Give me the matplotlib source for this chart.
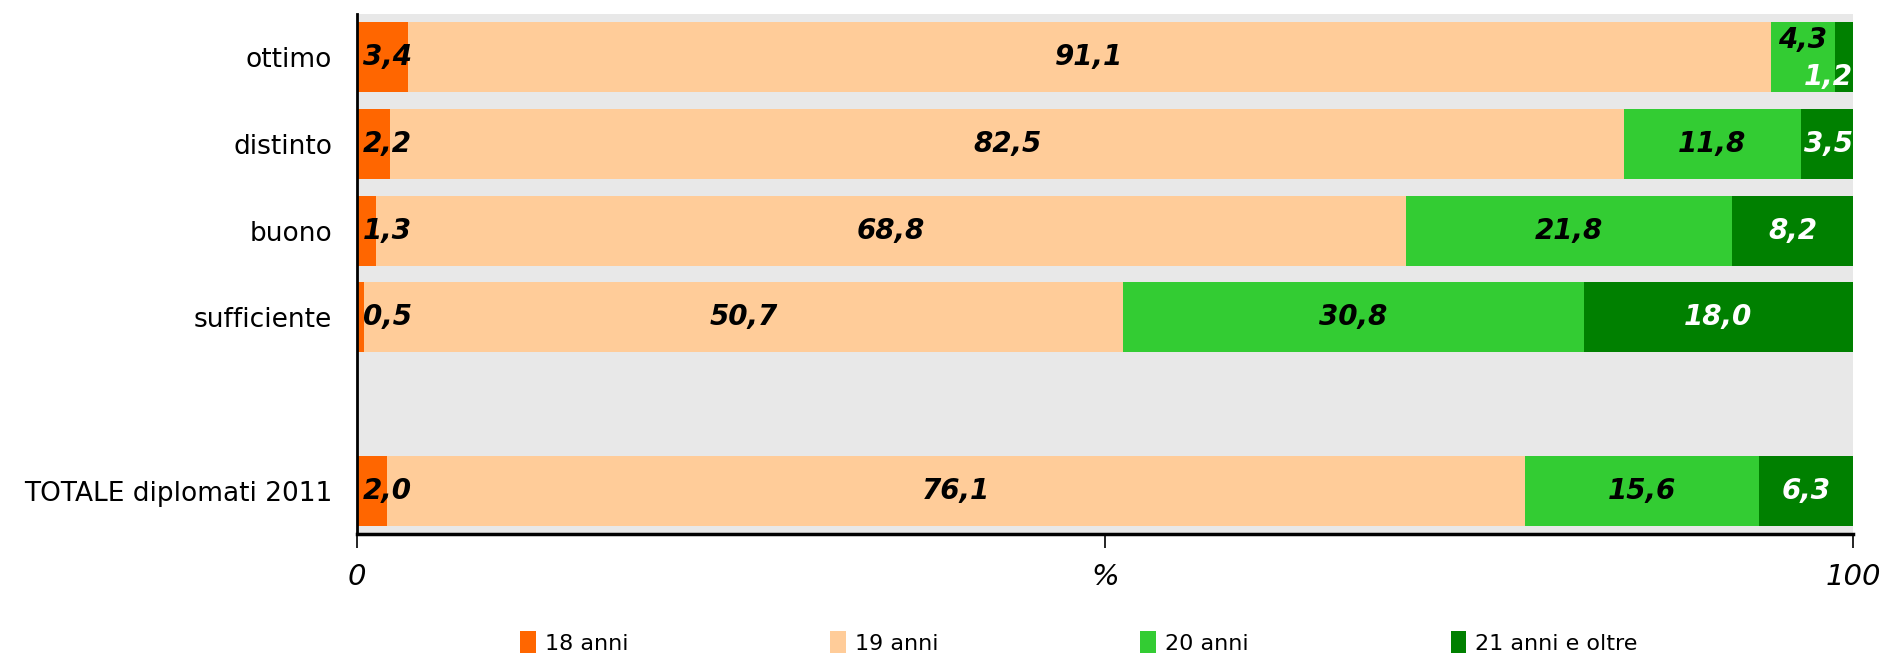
import numpy as np
import matplotlib
matplotlib.use("Agg")
import matplotlib.pyplot as plt
from matplotlib.patches import Patch

categories = ["ottimo", "distinto", "buono", "sufficiente", "", "TOTALE diplomati 2011"]
series_names = ["18 anni", "19 anni", "20 anni", "21 anni e oltre"]
age_18 = [3.4, 2.2, 1.3, 0.5, np.nan, 2.0]
age_19 = [91.1, 82.5, 68.8, 50.7, np.nan, 76.1]
age_20 = [4.3, 11.8, 21.8, 30.8, np.nan, 15.6]
age_21 = [1.2, 3.5, 8.2, 18.0, np.nan, 6.3]
colors = ["#FF6600", "#FFCC99", "#33CC33", "#008000"]

plt.rcParams['font.family'] = ['DejaVu Sans']

fig = plt.figure(figsize=(18.86, 6.54), dpi=100)
ax = fig.add_axes([0.1893, 0.1835, 0.7932, 0.7951])
ax.set_facecolor("#E8E8E8")

y = np.arange(len(categories))
data = [age_18, age_19, age_20, age_21]
left = np.zeros(len(categories))
for k, vals in enumerate(data):
    v = np.nan_to_num(np.array(vals, dtype=float))
    ax.barh(y, v, left=left, height=0.81, color=colors[k], edgecolor="none", zorder=2)
    txt_color = "white" if k == 3 else "black"
    for i, val in enumerate(vals):
        if np.isnan(val):
            continue
        cx = left[i] + val / 2
        ha = "center"
        dy = 0
        if k == 0:
            cx, ha = 0.4, "left"
        elif k == 2 and val < 5:
            dy = -0.2
        elif k == 3 and val < 5:
            cx, ha = 100, "right"
            if val < 2:
                dy = 0.23
        ax.text(cx, y[i] + dy, f"{val:.1f}".replace(".", ","), ha=ha, va="center",
                fontsize=20, fontweight="bold", fontstyle="italic", color=txt_color, zorder=3)
    left += v

ax.set_xlim(0, 100)
ax.set_ylim(5.5, -0.5)
ax.set_yticks(y)
ax.set_yticklabels(categories, fontsize=19)
ax.tick_params(axis="y", length=0, pad=18)
ax.set_xticks([0, 50, 100])
ax.set_xticklabels(["0", "%", "100"], fontsize=21, fontstyle="italic")
ax.tick_params(axis="x", length=10, width=1.2, pad=11)

for s in ["top", "right"]:
    ax.spines[s].set_visible(False)
ax.spines["left"].set_linewidth(2)
ax.spines["bottom"].set_linewidth(2.5)

handles = [Patch(facecolor=c, edgecolor="none") for c in colors]
fig.legend(handles, series_names, loc="lower center", bbox_to_anchor=(0.572, -0.03),
           ncol=4, frameon=False, fontsize=16, handlelength=0.7, handleheight=1.1,
           handletextpad=0.4, columnspacing=9.1)

fig.savefig("out.png", dpi=100)
